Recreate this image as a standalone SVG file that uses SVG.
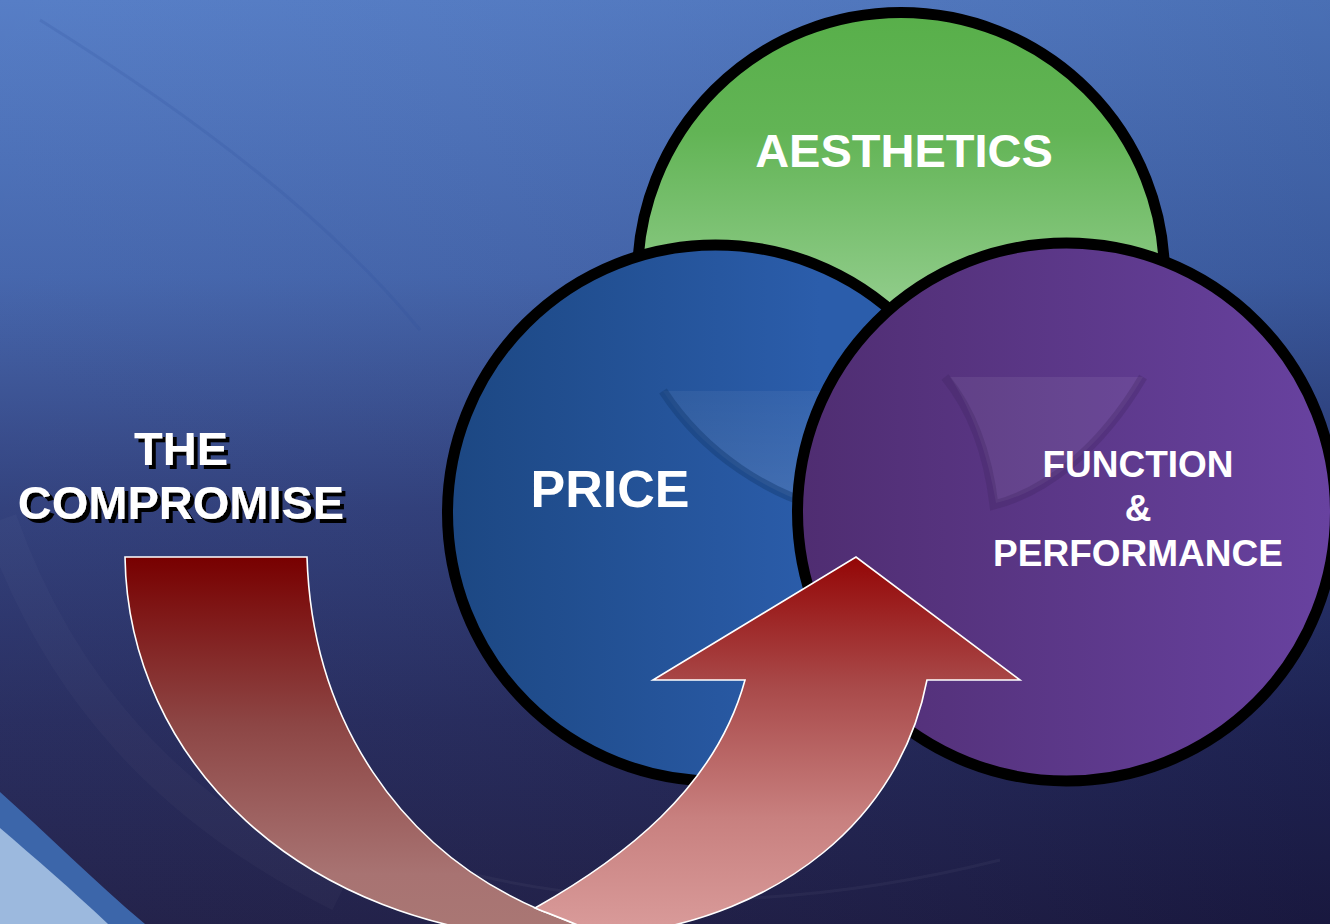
<svg xmlns="http://www.w3.org/2000/svg" width="1330" height="924" viewBox="0 0 1330 924">
  <defs>
    <linearGradient id="bgV" x1="0" y1="0" x2="0" y2="924" gradientUnits="userSpaceOnUse">
      <stop offset="0" stop-color="#5079c4"/>
      <stop offset="0.3" stop-color="#3f61aa"/>
      <stop offset="0.55" stop-color="#2b3a78"/>
      <stop offset="0.78" stop-color="#21265a"/>
      <stop offset="1" stop-color="#1b1a44"/>
    </linearGradient>
    <linearGradient id="bgH" x1="0" y1="0" x2="1330" y2="0" gradientUnits="userSpaceOnUse">
      <stop offset="0" stop-color="#ffffff" stop-opacity="0.04"/>
      <stop offset="1" stop-color="#000000" stop-opacity="0.08"/>
    </linearGradient>
    <linearGradient id="greenFill" x1="0" y1="12" x2="0" y2="310" gradientUnits="userSpaceOnUse">
      <stop offset="0" stop-color="#58af4a"/>
      <stop offset="0.4" stop-color="#62b455"/>
      <stop offset="1" stop-color="#92cd8c"/>
    </linearGradient>
    <linearGradient id="blueFill" x1="446" y1="0" x2="820" y2="0" gradientUnits="userSpaceOnUse">
      <stop offset="0" stop-color="#1c4782"/>
      <stop offset="1" stop-color="#2b5dab"/>
    </linearGradient>
    <linearGradient id="purpleFill" x1="798" y1="0" x2="1330" y2="0" gradientUnits="userSpaceOnUse">
      <stop offset="0" stop-color="#4f2d71"/>
      <stop offset="1" stop-color="#6842a0"/>
    </linearGradient>
    <linearGradient id="arrowBack" x1="0" y1="557" x2="0" y2="930" gradientUnits="userSpaceOnUse">
      <stop offset="0" stop-color="#780000"/>
      <stop offset="0.45" stop-color="#8d4645"/>
      <stop offset="0.85" stop-color="#a87372"/>
      <stop offset="1" stop-color="#a97774"/>
    </linearGradient>
    <linearGradient id="arrowFront" x1="0" y1="557" x2="0" y2="930" gradientUnits="userSpaceOnUse">
      <stop offset="0" stop-color="#940606"/>
      <stop offset="0.35" stop-color="#a94a4a"/>
      <stop offset="0.7" stop-color="#c8807f"/>
      <stop offset="1" stop-color="#d99b9a"/>
    </linearGradient>
    <linearGradient id="bowlBlue" x1="0" y1="391" x2="0" y2="505" gradientUnits="userSpaceOnUse">
      <stop offset="0" stop-color="#ffffff" stop-opacity="0.05"/>
      <stop offset="1" stop-color="#ffffff" stop-opacity="0.12"/>
    </linearGradient>
    <!-- hard black drop shadow for the side caption -->
    <filter id="dropShadow" x="-10%" y="-20%" width="130%" height="150%">
      <feOffset in="SourceAlpha" dx="4" dy="4" result="off"/>
      <feFlood flood-color="#000"/>
      <feComposite in2="off" operator="in" result="shadow"/>
      <feMerge>
        <feMergeNode in="shadow"/>
        <feMergeNode in="SourceGraphic"/>
      </feMerge>
    </filter>
    <style>
      .ring { stroke: #000; stroke-width: 11; }
      .label { font-family: "Liberation Sans", Arial, sans-serif; font-weight: bold; fill: #fff; text-anchor: middle; }
      .arrow { stroke: #fff; stroke-width: 1.6; stroke-linejoin: miter; }
    </style>
  </defs>

  <!-- backdrop -->
  <g id="background">
    <rect width="1330" height="924" fill="url(#bgV)"/>
    <rect width="1330" height="924" fill="url(#bgH)"/>
    <path d="M40,20 C200,120 330,220 420,330" fill="none" stroke="#2a4f9a" stroke-opacity="0.18" stroke-width="3"/>
    <path d="M0,520 C60,690 170,810 340,895" fill="none" stroke="#ffffff" stroke-opacity="0.025" stroke-width="34"/>
    <path d="M420,860 C600,915 800,910 1000,860" fill="none" stroke="#ffffff" stroke-opacity="0.04" stroke-width="3"/>
    <path d="M0,792 C45,832 95,882 145,924 L0,924 Z" fill="#3c66aa"/>
    <path d="M0,828 C35,858 72,890 108,924 L0,924 Z" fill="#9cb9de"/>
  </g>

  <!-- three overlapping circles -->
  <g id="node-aesthetics">
    <circle cx="901" cy="276" r="263.5" fill="url(#greenFill)" class="ring"/>
    <text x="904" y="167" class="label" font-size="47">AESTHETICS</text>
  </g>

  <g id="node-price">
    <circle cx="715.5" cy="513" r="268" fill="url(#blueFill)" class="ring"/>
    <path d="M663,391 L830,391 L830,510 C770,495 705,455 663,391 Z" fill="url(#bowlBlue)"/>
    <path d="M663,391 C705,455 770,495 830,510" fill="none" stroke="#163d75" stroke-opacity="0.5" stroke-width="9"/>
    <text x="610" y="507" class="label" font-size="52">PRICE</text>
  </g>

  <g id="node-function">
    <circle cx="1066.5" cy="512" r="269" fill="url(#purpleFill)" class="ring"/>
    <path d="M950,377 L1143,377 C1100,450 1045,492 996,503 C988,455 972,410 950,377 Z" fill="#ffffff" fill-opacity="0.07"/>
    <path d="M945,377 C972,410 988,455 994,505 C1045,492 1100,450 1143,377" fill="none" stroke="#3f2460" stroke-opacity="0.3" stroke-width="9"/>
    <text x="1138" y="477" class="label" font-size="37">FUNCTION</text>
    <text x="1138" y="521" class="label" font-size="37">&amp;</text>
    <text x="1138" y="566" class="label" font-size="37">PERFORMANCE</text>
  </g>

  <!-- curved compromise arrow -->
  <g id="connectors">
    <path class="arrow" fill="url(#arrowBack)" d="M125,557 L307,557 C312,720 400,850 540,910 C560,918 580,926 600,934 L600,940 L560,940 C300,930 128,760 125,557 Z"/>
    <path class="arrow" fill="url(#arrowFront)" d="M535,908 C620,860 715,790 745,680 L653,680 L856,557 L1020,680 L927,680 C900,820 780,915 620,935 L600,935 C580,925 560,918 535,908 Z"/>
  </g>

  <g id="node-compromise" filter="url(#dropShadow)">
    <text x="181" y="465" class="label" font-size="47">THE</text>
    <text x="181" y="519" class="label" font-size="47">COMPROMISE</text>
  </g>
</svg>
